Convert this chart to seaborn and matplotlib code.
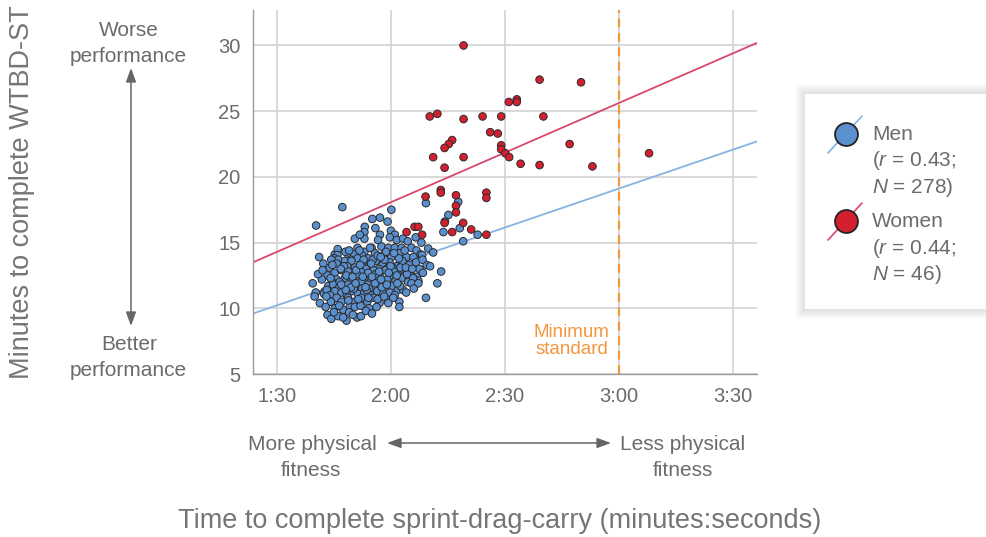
import matplotlib
matplotlib.use("Agg")
import matplotlib.pyplot as plt
import pandas as pd
import seaborn as sns
from matplotlib.lines import Line2D
from matplotlib.patches import Rectangle, FancyArrowPatch

# Sprint-drag-carry time (seconds) vs. minutes to complete the WTBD-ST
men_sec = [
    107.2, 100.3, 120.1, 117.1, 115.1, 119.1, 113.1, 115.9, 120.0, 113.0,
    117.1, 121.0, 113.0, 116.6, 119.7, 121.5, 123.2, 124.4, 129.2, 137.7,
    135.1, 134.2, 133.8, 138.1, 139.0, 142.8, 126.5, 128.0, 110.5, 111.8,
    111.2, 114.9, 117.5, 119.3, 121.0, 122.8, 125.4, 129.8, 131.1, 126.7,
    101.1, 105.2, 108.9, 110.3, 115.8, 122.3, 106.0, 108.0, 113.0, 127.8,
    112.3, 114.0, 118.0, 120.1, 124.1, 125.9, 128.2, 105.9, 105.1, 106.1,
    111.2, 109.4, 104.3, 105.7, 107.9, 109.6, 103.9, 110.5, 112.5, 114.3,
    116.0, 117.8, 119.6, 121.4, 123.0, 124.8, 126.6, 129.4, 130.3, 128.3,
    102.2, 113.4, 115.2, 118.9, 122.1, 127.5, 108.5, 111.6, 120.5, 116.8,
    105.2, 107.0, 108.7, 110.2, 112.0, 113.7, 115.4, 117.0, 118.6, 120.3,
    121.9, 123.5, 125.1, 126.8, 128.4, 133.2, 105.7, 107.9, 109.6, 111.3,
    113.0, 114.6, 116.3, 118.0, 119.6, 121.2, 122.8, 124.5, 127.2, 103.3,
    101.8, 104.5, 111.0, 116.0, 119.0, 125.8, 114.0, 120.8, 108.3, 112.2,
    103.5, 104.8, 106.1, 107.4, 108.7, 110.9, 112.4, 113.9, 115.5, 117.0,
    118.6, 120.2, 121.8, 123.2, 125.4, 127.2, 132.2, 100.2, 102.6, 105.2,
    107.0, 109.6, 111.3, 113.0, 114.7, 116.4, 118.0, 119.7, 121.0, 102.4,
    103.1, 110.2, 114.2, 117.6, 122.4, 124.0, 126.0, 108.4, 104.0, 115.8,
    101.3, 104.3, 105.7, 107.0, 108.7, 110.5, 112.2, 113.8, 115.4, 117.0,
    119.3, 119.3, 122.2, 122.2, 129.2, 104.2, 105.2, 107.4, 109.2, 110.5,
    112.0, 114.2, 116.2, 103.0, 106.4, 111.4, 116.5, 118.2, 120.6, 102.8,
    103.3, 104.3, 106.1, 108.3, 111.1, 112.1, 109.0, 113.4, 105.0, 115.0,
    110.0, 107.4, 109.0, 111.7, 118.7, 123.6, 116.5, 110.8, 117.4, 122.5,
    124.2, 106.5, 109.5, 113.6, 118.9, 121.5, 112.8, 115.0, 119.9, 107.6,
    114.5, 120.8, 99.4, 100.8, 99.9, 102.0, 104.6, 106.8, 108.1, 109.9,
    111.9, 113.3, 114.8, 116.9, 118.3, 106.9, 108.8, 104.1, 110.7, 112.6,
    114.1, 117.3, 119.4, 121.7, 123.9, 125.6,
]
men_min = [
    17.7, 16.3, 17.5, 16.9, 16.8, 16.6, 16.2, 16.1, 15.9, 15.8,
    15.6, 15.6, 15.3, 15.2, 15.4, 15.2, 15.3, 15.1, 18.0, 18.1,
    17.1, 16.6, 15.8, 16.1, 15.1, 15.6, 15.4, 15.0, 15.3, 15.6,
    14.6, 14.6, 14.7, 14.6, 14.6, 14.6, 14.6, 14.55, 14.25, 14.4,
    13.9, 14.1, 13.9, 14.1, 14.2, 14.2, 14.5, 14.3, 14.3, 14.1,
    14.05, 13.8, 14.05, 13.9, 13.9, 13.9, 14.05, 14.05, 13.8, 13.7,
    13.8, 13.7, 13.7, 13.4, 13.6, 13.6, 13.1, 13.1, 13.4, 13.2,
    13.6, 13.3, 13.5, 13.2, 13.6, 13.3, 13.5, 13.3, 13.2, 13.7,
    13.4, 13.0, 13.7, 13.0, 13.8, 13.0, 13.2, 13.0, 13.1, 13.0,
    12.7, 12.9, 12.8, 12.5, 12.8, 12.5, 12.9, 12.6, 12.9, 12.6,
    12.9, 12.5, 12.8, 12.4, 12.7, 12.8, 12.2, 12.3, 12.2, 12.1,
    12.3, 12.0, 12.3, 12.1, 12.4, 12.1, 12.3, 12.0, 12.1, 12.5,
    12.2, 12.0, 12.6, 12.6, 12.2, 12.3, 12.7, 12.8, 12.5, 12.0,
    11.7, 11.8, 11.5, 11.7, 11.8, 11.7, 11.5, 11.8, 11.5, 11.8,
    11.5, 11.7, 11.4, 11.4, 11.9, 11.9, 11.9, 11.2, 11.3, 11.3,
    11.2, 11.3, 11.1, 11.2, 11.0, 11.3, 11.1, 11.2, 11.0, 11.1,
    11.4, 11.5, 11.5, 11.6, 11.7, 11.2, 11.5, 11.0, 11.0, 11.9,
    10.4, 10.5, 10.8, 10.5, 10.8, 10.5, 10.8, 10.5, 10.8, 10.4,
    10.6, 10.4, 10.5, 10.1, 10.8, 10.5, 10.0, 9.9, 10.1, 10.1,
    10.2, 10.0, 10.1, 10.9, 10.2, 10.7, 10.7, 10.9, 10.8, 10.1,
    9.5, 9.2, 9.4, 9.06, 9.3, 9.4, 9.7, 9.8, 9.7, 9.6,
    9.5, 9.3, 14.4, 14.4, 14.3, 14.4, 14.0, 12.9, 12.2, 13.1,
    12.6, 12.0, 11.6, 11.4, 11.8, 12.5, 13.7, 12.4, 13.2, 13.2,
    14.6, 14.2, 11.9, 12.6, 10.9, 12.9, 13.3, 13.0, 11.4, 12.4,
    13.3, 11.6, 13.4, 12.8, 13.7, 11.8, 10.6, 12.3, 11.9, 12.4,
    10.8, 13.9, 12.7, 11.9, 13.1, 13.0,
]
women_sec = [
    139.1, 159.1, 170.0, 151.0, 153.1, 153.1, 130.2, 132.2, 139.1, 144.1,
    149.0, 160.1, 146.1, 148.1, 136.1, 135.2, 134.1, 149.0, 149.0, 150.1,
    151.1, 167.0, 187.9, 131.1, 139.1, 154.1, 159.1, 173.0, 134.1, 133.1,
    133.1, 129.1, 137.1, 145.1, 145.1, 137.1, 137.1, 134.1, 139.0, 141.1,
    136.1, 145.1, 128.2, 126.2, 127.2, 124.1,
]
women_min = [
    30.0, 27.4, 27.2, 25.7, 25.9, 25.7, 24.6, 24.8, 24.4, 24.6,
    24.6, 24.6, 23.4, 23.3, 22.8, 22.5, 22.2, 22.4, 22.1, 21.8,
    21.5, 22.5, 21.8, 21.5, 21.5, 21.0, 20.9, 20.8, 20.7, 19.0,
    18.8, 18.5, 18.6, 18.8, 18.4, 17.8, 17.3, 16.5, 16.5, 16.0,
    15.8, 15.6, 15.6, 16.2, 16.2, 15.8,
]

# Fitted trend lines (endpoints across the visible range)
fit_x = [83.7, 216.3]
men_fit_y = [9.6, 22.7]
women_fit_y = [13.5, 30.2]

x_ticks = [90, 120, 150, 180, 210]
x_tick_labels = ["1:30", "2:00", "2:30", "3:00", "3:30"]
y_ticks = [5, 10, 15, 20, 25, 30]
min_standard_sec = 180

groups = ["Men", "Women"]
group_r = ["0.43", "0.44"]
group_n = ["278", "46"]

BLUE = "#5b90cf"
RED = "#d41f30"
BLUE_LINE = "#86b4e2"
RED_LINE = "#d9476a"
ORANGE = "#f2963f"
TXT = "#6b6b6b"

sns.set_style("white")
plt.rcParams["font.family"] = ["Liberation Sans", "DejaVu Sans"]
plt.rcParams["mathtext.fontset"] = "custom"
plt.rcParams["mathtext.rm"] = "Liberation Sans"
plt.rcParams["mathtext.it"] = "Liberation Sans:italic"
plt.rcParams["mathtext.bf"] = "Liberation Sans:bold"

W, H = 987, 537
fig = plt.figure(figsize=(W / 100, H / 100), dpi=100)


def fx(x):
    return x / W


def fy(y):
    return 1 - y / H


ax = fig.add_axes([fx(253), fy(374), (757 - 253) / W, (374 - 10) / H])

df = pd.DataFrame({
    "sec": men_sec + women_sec,
    "mins": men_min + women_min,
    "group": ["Men"] * len(men_sec) + ["Women"] * len(women_sec),
})

ax.grid(True, color="#d3d3d3", lw=1.2)
ax.set_axisbelow(True)

sns.lineplot(x=fit_x, y=men_fit_y, color=BLUE_LINE, lw=1.3, ax=ax, zorder=2)
sns.lineplot(x=fit_x, y=women_fit_y, color=RED_LINE, lw=1.3, ax=ax, zorder=2)

ax.axvline(min_standard_sec, color=ORANGE, lw=1.6, ls=(0, (4, 2.5)), zorder=2.5)

sns.scatterplot(data=df, x="sec", y="mins", hue="group",
                palette={"Men": BLUE, "Women": RED}, s=30,
                edgecolor="#2a2a2a", linewidth=0.7, legend=False,
                ax=ax, zorder=3)

ax.set_xlim(83.7, 216.3)
ax.set_ylim(5, 32.7)
ax.set_xticks(x_ticks)
ax.set_xticklabels(x_tick_labels)
ax.set_yticks(y_ticks)
ax.set_xlabel("")
ax.set_ylabel("")
ax.tick_params(length=0, pad=9, labelsize=14.5, labelcolor=TXT)
sns.despine(ax=ax)
for side in ("left", "bottom"):
    ax.spines[side].set_color("#9a9a9a")
    ax.spines[side].set_linewidth(1.0)

ax.text(167.6, 7.5, "Minimum\nstandard", color=ORANGE, fontsize=13.5,
        ha="center", va="center", multialignment="center", linespacing=1.05)

# Axis titles
fig.text(fx(22), fy(192), "Minutes to complete WTBD-ST", rotation=90,
         ha="center", va="center", fontsize=19.5, color="#757575")
fig.text(fx(500), fy(521), "Time to complete sprint-drag-carry (minutes:seconds)",
         ha="center", va="center", fontsize=19.5, color="#757575")

# Direction hints
for txt, x, y in [("Worse", 129, 29), ("performance", 128, 54),
                  ("Better", 129, 343), ("performance", 128, 369),
                  ("More physical", 312, 443), ("fitness", 311, 468),
                  ("Less physical", 683, 443), ("fitness", 683, 468)]:
    fig.text(fx(x), fy(y), txt, ha="center", va="center_baseline",
             fontsize=15, color=TXT)

arrow_kw = dict(arrowstyle="<|-|>,head_length=0.6,head_width=0.22",
                color="#666666", lw=1.1, shrinkA=0, shrinkB=0)
fig.add_artist(FancyArrowPatch(
    (fx(131), fy(68)), (fx(131), fy(326)), transform=fig.transFigure,
    mutation_scale=14, **arrow_kw))
fig.add_artist(FancyArrowPatch(
    (fx(387), fy(443)), (fx(611), fy(443)), transform=fig.transFigure,
    mutation_scale=14, **arrow_kw))

# Legend panel with soft shadow
bx0, by0, bx1, by1 = 805, 94, 992, 309
for k in range(10, 0, -1):
    fig.add_artist(Rectangle((fx(bx0 - k), fy(by1 + k)), (bx1 - bx0 + 2 * k) / W,
                             (by1 - by0 + 2 * k) / H, transform=fig.transFigure,
                             facecolor="#808080", edgecolor="none",
                             alpha=0.025, zorder=5))
fig.add_artist(Rectangle((fx(bx0), fy(by1)), (bx1 - bx0) / W, (by1 - by0) / H,
                         transform=fig.transFigure, facecolor="white",
                         edgecolor="none", zorder=6))

for i, (g, r, n, fc, lc) in enumerate(zip(groups, group_r, group_n,
                                          [BLUE, RED], [BLUE_LINE, RED_LINE])):
    cy = 134 + i * 87
    fig.add_artist(Line2D([fx(828), fx(862)], [fy(cy + 19), fy(cy - 18)],
                          transform=fig.transFigure, color=lc, lw=1.2, zorder=7))
    fig.add_artist(Line2D([fx(846)], [fy(cy)], transform=fig.transFigure,
                          marker="o", markersize=16.5, markerfacecolor=fc,
                          markeredgecolor="#222222", markeredgewidth=1.3,
                          ls="none", zorder=8))
    fig.text(fx(872), fy(cy - 2), g, ha="left", va="center_baseline",
             fontsize=15, color=TXT, zorder=9)
    fig.text(fx(872), fy(cy + 24), "($r$ = " + r + ";", ha="left",
             va="center_baseline", fontsize=15, color=TXT, zorder=9)
    fig.text(fx(872), fy(cy + 50), "$N$ = " + n + ")", ha="left",
             va="center_baseline", fontsize=15, color=TXT, zorder=9)

fig.savefig("out.png", dpi=100)
